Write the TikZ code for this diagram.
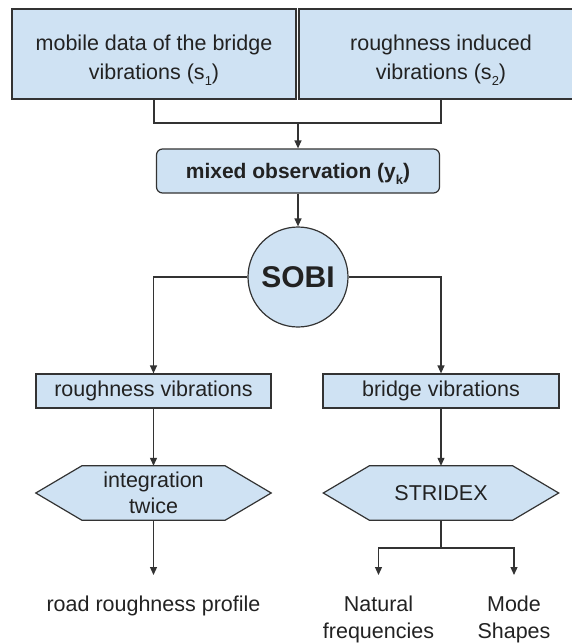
\documentclass[tikz,border=0pt]{standalone}
\usepackage{fontspec}
\setmainfont{Liberation Sans}
\usetikzlibrary{arrows.meta,backgrounds}
\definecolor{boxfill}{HTML}{CFE2F3}
\definecolor{edge}{HTML}{333333}
\definecolor{ink}{HTML}{222222}

% low, small subscript index
\newcommand\lowsub[1]{\raisebox{-0.32em}{\fontsize{13}{13}\selectfont#1}}
% invisible strut that gives the first text line extra head room
\newcommand\headroom[1]{\rule{0pt}{#1}}

% hexagonal outline behind a named node: #1 node name, #2 depth of the pointed ends
\newcommand\hexoutline[2]{%
  \begin{scope}[on background layer]
    \filldraw[flow, fill=boxfill]
      (#1.west) -- ([xshift=#2]#1.north west) -- ([xshift=-#2]#1.north east)
      -- (#1.east) -- ([xshift=-#2]#1.south east) -- ([xshift=#2]#1.south west) -- cycle;
  \end{scope}}

\begin{document}
\begin{tikzpicture}[x=1pt,y=-1pt,
  every node/.style={text=ink, font=\fontsize{21.5}{29}\selectfont},
  flow/.style={draw=edge, line width=1.2pt},
  arrow/.style={flow, -{Triangle[length=8pt,width=7pt]}},
  box/.style={draw=edge, fill=boxfill, line width=1.2pt, inner sep=0pt, align=center},
  hexbox/.style={inner sep=0pt, align=center, minimum width=235pt, minimum height=54pt,
                 font=\fontsize{21.5}{26.5}\selectfont},
  result/.style={inner xsep=0pt, inner ysep=21pt, align=center, anchor=north,
                 font=\fontsize{21.5}{26.5}\selectfont}]
\useasboundingbox (0,0) rectangle (571,643);

% input signals
\node[box, minimum width=284pt, minimum height=90pt] (s1) at (154,54)
  {\headroom{28pt}mobile data of the bridge\\vibrations (s\lowsub{1})};
\node[box, minimum width=284pt, minimum height=90pt] (s2) at (441,54)
  {\headroom{28pt}roughness induced\\vibrations (s\lowsub{2})};

% mixing and separation
\node[box, rounded corners=6pt, minimum width=283pt, minimum height=44pt,
      font=\fontsize{21}{29}\selectfont\bfseries] (mixed) at (298,171)
  {\headroom{21pt}mixed observation (y\lowsub{k})};
\node[box, circle, minimum size=100pt, font=\fontsize{30}{36}\selectfont\bfseries]
  (sobi) at (298,277) {SOBI};

% separated components
\node[box, minimum width=235pt, minimum height=34pt] (rv) at (153.5,391) {roughness vibrations};
\node[box, minimum width=236pt, minimum height=34pt] (bv) at (441,391) {bridge vibrations};

% processing steps
\node[hexbox] (integ) at (153.5,493) {integration\\twice};
\hexoutline{integ}{46pt}
\node[hexbox] (stridex) at (441,493) {STRIDEX};
\hexoutline{stridex}{46pt}

% outputs
\node[result] (road) at (153.5,575) {road roughness profile};
\node[result] (natural) at (378.5,575) {Natural\\frequencies};
\node[result] (mode) at (514,575) {Mode\\Shapes};

% connectors
\coordinate (merge) at (298,123);
\draw[flow] (s1.south) |- (merge);
\draw[flow] (s2.south) |- (merge);
\draw[arrow] (merge) -- (mixed.north);
\draw[arrow] (mixed.south) -- (sobi.north);
\draw[arrow] (sobi.west) -| (rv.north);
\draw[arrow] (sobi.east) -| (bv.north);
\draw[arrow] (rv.south) -- (integ.north);
\draw[arrow] (bv.south) -- (stridex.north);
\draw[arrow] (integ.south) -- (road.north);
\coordinate (split) at (441,548);
\draw[flow] (stridex.south) -- (split);
\draw[arrow] (split) -| (natural.north);
\draw[arrow] (split) -| (mode.north);
\end{tikzpicture}
\end{document}
